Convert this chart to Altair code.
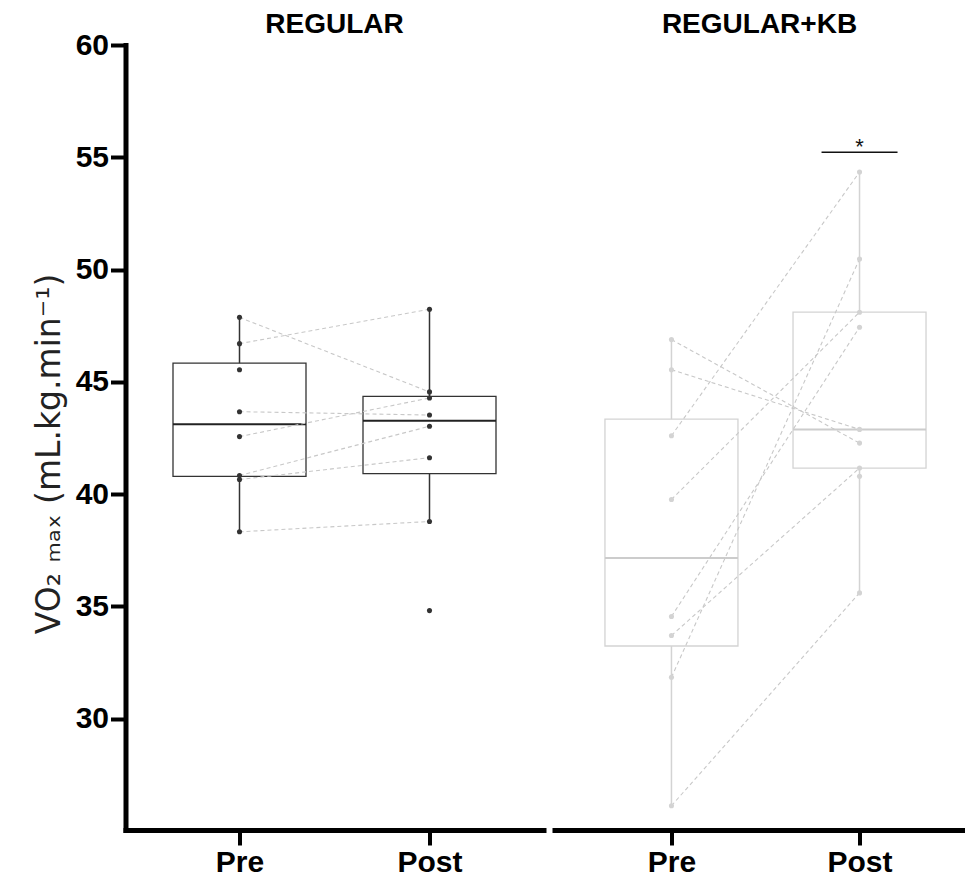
import altair as alt
import pandas as pd

groups = ["REGULAR", "REGULAR+KB"]
times = ["Pre", "Post"]

# paired subjects (None = no partner drawn)
reg_pre = [47.87, 46.70, 43.67, 42.56, 40.83, 40.65, 38.32, 45.54, None]
reg_post = [44.55, 48.23, 43.52, 44.28, 43.02, 41.62, 38.78, None, 34.81]
kb_pre = [46.88, 45.54, 42.60, 39.76, 34.55, 31.84, 33.70, 26.12, None]
kb_post = [42.27, 42.88, 54.34, 48.10, 47.43, 50.47, 41.16, 35.60, 40.79]

sig_group = "REGULAR+KB"
sig_time = "Post"
sig_level = 55.22
sig_label = "*"

y_ticks = [30, 35, 40, 45, 50, 55, 60]
y_domain = [25.04, 60]
y_title = "VO\u2082 \u2098\u2090\u2093 (mL.kg.min\u207b\u00b9)"

rows = []
for g, pre, post in [(groups[0], reg_pre, reg_post), (groups[1], kb_pre, kb_post)]:
    for i, (a, b) in enumerate(zip(pre, post)):
        if a is not None:
            rows.append({"group": g, "id": i, "time": "Pre", "value": a})
        if b is not None:
            rows.append({"group": g, "id": i, "time": "Post", "value": b})
df = pd.DataFrame(rows)

pair_rows = []
for g, pre, post in [(groups[0], reg_pre, reg_post), (groups[1], kb_pre, kb_post)]:
    for i, (a, b) in enumerate(zip(pre, post)):
        if a is not None and b is not None:
            pair_rows.append({"group": g, "id": i, "time": "Pre", "value": a})
            pair_rows.append({"group": g, "id": i, "time": "Post", "value": b})
pairs = pd.DataFrame(pair_rows)

sig_df = pd.DataFrame([{"group": sig_group, "time": sig_time, "value": sig_level}])

FONT = "Liberation Sans"
HEIGHT = 785


def make_panel(group, color, median_color, width, padding, align, show_y, title_offset):
    d = df[df.group == group]
    p = pairs[pairs.group == group]
    xenc = alt.X(
        "time:N", sort=times,
        scale=alt.Scale(type="point", padding=padding, align=align),
        axis=alt.Axis(title=None, labelAngle=0, labelFont=FONT, labelFontSize=30,
                      labelFontWeight="bold", labelColor="black", tickSize=15,
                      tickWidth=4, tickColor="black", domainColor="black",
                      domainWidth=5, domainCap="square", labelPadding=2),
    )
    if show_y:
        yaxis = alt.Axis(values=y_ticks, title=y_title, grid=False,
                         labelFont=FONT, labelFontSize=30, labelFontWeight="bold",
                         labelColor="black", tickSize=15, tickWidth=4,
                         tickColor="black", domainColor="black", domainWidth=5,
                         domainCap="square", labelPadding=2,
                         titleFont="DejaVu Sans", titleFontSize=33,
                         titleFontWeight="normal", titleColor="#222222",
                         titleAngle=270, titleAlign="center",
                         titleBaseline="alphabetic", titleX=-66,
                         titleY=HEIGHT * 0.5 + 16)
    else:
        yaxis = None
    yenc = alt.Y("value:Q", scale=alt.Scale(domain=y_domain, nice=False, zero=False),
                 axis=yaxis)

    box = alt.Chart(d).mark_boxplot(
        extent=1.5, size=133, outliers=False, ticks=False,
        box={"fill": "transparent", "stroke": color, "strokeWidth": 1.3},
        median={"color": median_color, "opacity": 1, "thickness": 2},
        rule={"stroke": color, "strokeWidth": 1.5},
    ).encode(x=xenc, y=yenc)

    lines = alt.Chart(p).mark_line(
        strokeDash=[4, 3], color="#c8c8c8", strokeWidth=1.1
    ).encode(x=xenc, y=yenc, detail="id:N")

    pts = alt.Chart(d).mark_circle(size=26, opacity=1, color=color).encode(x=xenc, y=yenc)

    layers = [box, lines, pts]
    s = sig_df[sig_df.group == group]
    if len(s):
        rule = alt.Chart(s).mark_rule(color="#111111", strokeWidth=1.5,
                                      xOffset=-38, x2Offset=38).encode(
            x=xenc, x2=alt.X2("time:N"), y=yenc)
        star = alt.Chart(s).mark_text(text=sig_label, font=FONT, fontSize=22,
                                      color="#111111", baseline="alphabetic",
                                      dy=2).encode(x=xenc, y=yenc)
        layers += [rule, star]

    return alt.layer(*layers).properties(
        width=width, height=HEIGHT,
        title=alt.TitleParams(text=group, font=FONT, fontSize=28, fontWeight="bold",
                              color="black", anchor="middle", offset=title_offset),
    )


left = make_panel(groups[0], "#333333", "#222222", 418, 0.6, 0.5, True, -9)
right = make_panel(groups[1], "#d3d3d3", "#cccccc", 410, 0.59, 0.527, False, 6)

chart = alt.hconcat(left, right, spacing=11).properties(
    padding={"left": 25.5, "top": 3, "right": 0, "bottom": 0}
).configure_view(stroke=None).resolve_scale(y="independent")

chart.save("out.html", embed_options={"renderer": "svg", "actions": False})
